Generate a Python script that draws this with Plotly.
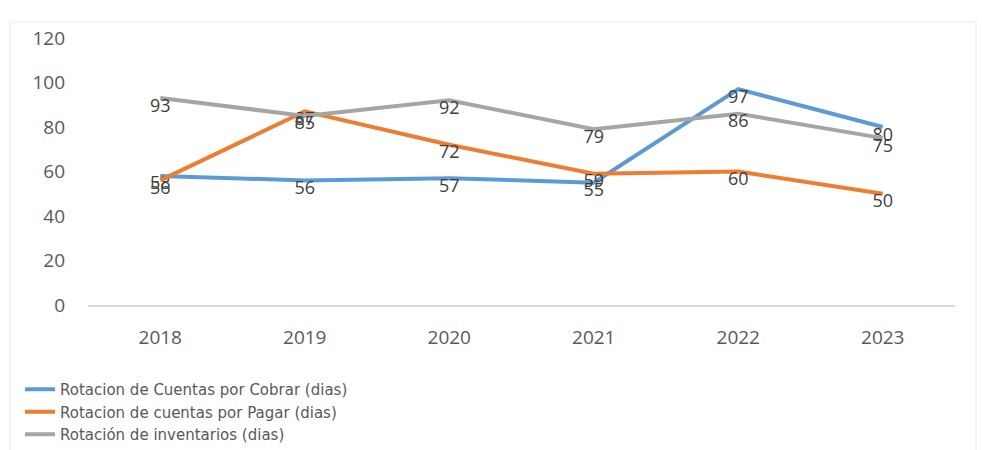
import plotly.graph_objects as go

# Years and turnover days per indicator
years = ["2018", "2019", "2020", "2021", "2022", "2023"]
cuentas_cobrar = [58, 56, 57, 55, 97, 80]
cuentas_pagar = [56, 87, 72, 59, 60, 50]
inventarios = [93, 85, 92, 79, 86, 75]

series_names = [
    "Rotacion de Cuentas por Cobrar (dias)",
    "Rotacion de cuentas por Pagar (dias)",
    "Rotación de inventarios (dias)",
]
series_values = [cuentas_cobrar, cuentas_pagar, inventarios]
series_colors = ["#5B9BD5", "#ED7D31", "#A5A5A5"]

y_ticks = [0, 20, 40, 60, 80, 100, 120]

W, H = 982, 450
L, R, T, B = 88, 27, 38, 145

fig = go.Figure()
for name, vals, col in zip(series_names, series_values, series_colors):
    fig.add_trace(go.Scatter(
        x=years, y=vals, name=name, mode="lines+text",
        line=dict(color=col, width=4),
        text=[str(v) for v in vals], textposition="bottom center",
        textfont=dict(family="Open Sans", size=18, color="#404040"),
        cliponaxis=False, hoverinfo="skip",
    ))

pw, ph = W - L - R, H - T - B

# faint outer frame of the chart area
fig.add_shape(type="rect", xref="paper", yref="paper",
              x0=(10 - L) / pw, x1=(976 - L) / pw,
              y0=(H - B - 470) / ph, y1=(H - B - 22) / ph,
              line=dict(color="#ececec", width=1), fillcolor="rgba(0,0,0,0)",
              layer="below")

fig.update_layout(
    width=W, height=H,
    margin=dict(l=L, r=R, t=T, b=B, autoexpand=False),
    paper_bgcolor="white", plot_bgcolor="white",
    font=dict(family="Open Sans", color="#595959", size=17),
    showlegend=True,
    legend=dict(
        orientation="v", x=(20 - L) / pw, xanchor="left",
        y=(H - B - 373) / ph, yanchor="top",
        font=dict(family="DejaVu Sans", size=15, color="#595959"),
        tracegroupgap=0, itemwidth=30, bgcolor="rgba(0,0,0,0)",
    ),
    hovermode=False,
)
fig.update_xaxes(
    type="category", range=[-0.5, 5.5], showgrid=False, showline=True,
    linecolor="#d9d9d9", linewidth=1.5, ticks="", ticklabelstandoff=14,
    tickfont=dict(size=19, color="#595959"),
)
fig.update_yaxes(
    range=[0, 120], tickvals=y_ticks, showgrid=False, zeroline=False,
    showline=False, ticks="", ticklabelstandoff=22,
    tickfont=dict(size=19, color="#595959"),
)

fig.write_html("out.html")
